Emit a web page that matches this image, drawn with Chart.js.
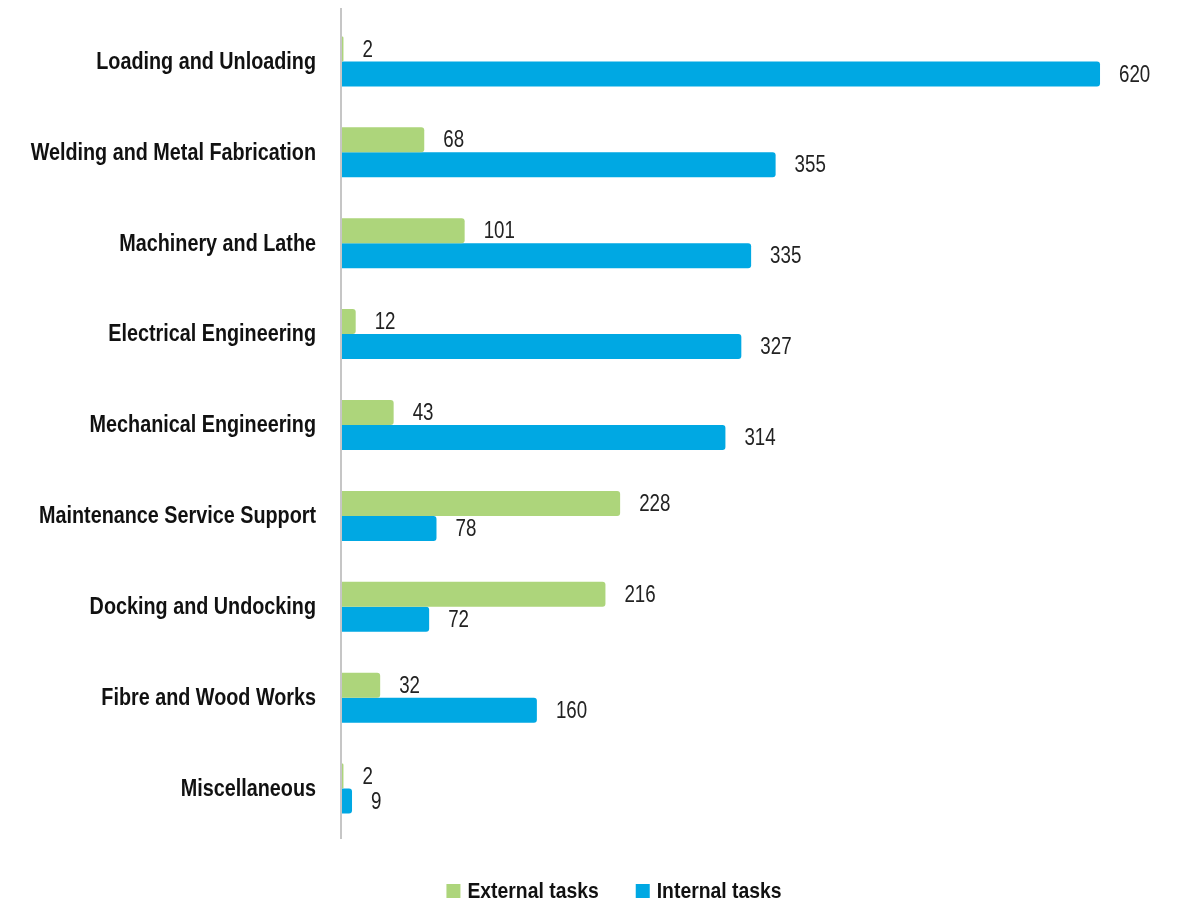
<!DOCTYPE html>
<html>
<head>
<meta charset="utf-8">
<script src="https://cdn.jsdelivr.net/npm/chart.js@4/dist/chart.umd.min.js"></script>
<style>
  html, body { margin: 0; padding: 0; background: #fff; }
  #wrap { width: 1186px; height: 904px; position: relative; }
</style>
</head>
<body>
<div id="wrap"><canvas id="tasksChart"></canvas></div>
<script>
const categories = [
  'Loading and Unloading',
  'Welding and Metal Fabrication',
  'Machinery and Lathe',
  'Electrical Engineering',
  'Mechanical Engineering',
  'Maintenance Service Support',
  'Docking and Undocking',
  'Fibre and Wood Works',
  'Miscellaneous'
];
const externalTasks = [2, 68, 101, 12, 43, 228, 216, 32, 2];
const internalTasks = [620, 355, 335, 327, 314, 78, 72, 160, 9];

const FONT = "'Liberation Sans', Arial, sans-serif";
const NARROW = 0.86;   // horizontal squeeze to get a condensed face

// draw text squeezed horizontally around its anchor point
function narrowText(ctx, text, x, y, align, squeeze) {
  ctx.save();
  ctx.translate(x, y);
  ctx.scale(squeeze, 1);
  ctx.textAlign = align;
  ctx.fillText(text, 0, 0);
  ctx.restore();
}

// axis line, category names, value labels and legend
const decorations = {
  id: 'decorations',
  afterDatasetsDraw(chart) {
    const ctx = chart.ctx;
    const area = chart.chartArea;
    const yScale = chart.scales.y;

    ctx.save();
    ctx.strokeStyle = '#c6c6c6';
    ctx.lineWidth = 2;
    ctx.beginPath();
    ctx.moveTo(area.left, area.top - 8);
    ctx.lineTo(area.left, area.bottom + 5);
    ctx.stroke();

    ctx.fillStyle = '#111';
    ctx.textBaseline = 'middle';
    ctx.font = 'bold 23px ' + FONT;
    categories.forEach((name, i) => {
      narrowText(ctx, name, area.left - 25, yScale.getPixelForTick(i) + 1, 'right', NARROW);
    });

    ctx.fillStyle = '#222';
    ctx.font = '24px ' + FONT;
    chart.data.datasets.forEach((ds, i) => {
      chart.getDatasetMeta(i).data.forEach((bar, j) => {
        narrowText(ctx, String(ds.data[j]), bar.x + 19, bar.y + 1, 'left', 0.78);
      });
    });

    // legend
    ctx.font = 'bold 22px ' + FONT;
    const box = 14, gap = 7, itemGap = 37, squeeze = 0.88;
    const items = chart.data.datasets.map(ds => ({
      label: ds.label,
      color: ds.backgroundColor,
      w: box + gap + ctx.measureText(ds.label).width * squeeze
    }));
    const total = items.reduce((s, it) => s + it.w, 0) + itemGap * (items.length - 1);
    let x = 614 - total / 2;
    const ly = 891;
    items.forEach(it => {
      ctx.fillStyle = it.color;
      ctx.fillRect(x, ly - box / 2, box, box);
      ctx.fillStyle = '#111';
      narrowText(ctx, it.label, x + box + gap, ly + 1, 'left', squeeze);
      x += it.w + itemGap;
    });
    ctx.restore();
  }
};

const ctx = document.getElementById('tasksChart').getContext('2d');
new Chart(ctx, {
  type: 'bar',
  data: {
    labels: categories,
    datasets: [
      {
        label: 'External tasks',
        data: externalTasks,
        backgroundColor: '#add57b',
        borderRadius: 3,
        barPercentage: 1,
        categoryPercentage: 0.55
      },
      {
        label: 'Internal tasks',
        data: internalTasks,
        backgroundColor: '#00a8e3',
        borderRadius: 3,
        barPercentage: 1,
        categoryPercentage: 0.55
      }
    ]
  },
  options: {
    indexAxis: 'y',
    responsive: true,
    maintainAspectRatio: false,
    animation: false,
    layout: {
      padding: { top: 16, right: 37, bottom: 70, left: 0 }
    },
    plugins: {
      tooltip: { enabled: false },
      legend: { display: false }
    },
    scales: {
      x: {
        display: false,
        min: 0,
        max: 660
      },
      y: {
        afterFit(scale) {
          scale.width = 341;
        },
        grid: { display: false },
        border: { display: false },
        ticks: { display: false }
      }
    }
  },
  plugins: [decorations]
});
</script>
</body>
</html>
